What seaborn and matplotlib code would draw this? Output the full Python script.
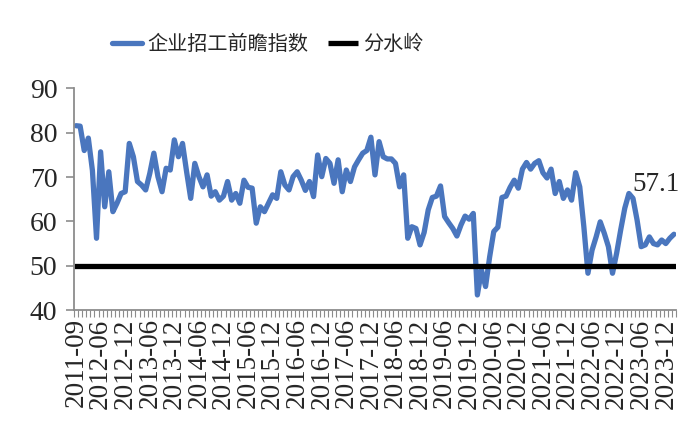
import numpy as np
import pandas as pd
import matplotlib
matplotlib.use("Agg")
import matplotlib.pyplot as plt
import seaborn as sns
from matplotlib.ticker import FixedLocator

# ---- data ----
index_values = [
    81.6, 81.5, 76.0, 78.8, 71.5, 56.2, 75.7, 63.3, 71.2, 62.2,
    64.1, 66.3, 66.7, 77.6, 74.6, 69.0, 68.2, 67.1, 70.8, 75.4,
    70.1, 66.7, 72.0, 71.6, 78.4, 74.6, 77.6, 71.2, 65.2, 73.1,
    70.1, 67.8, 70.5, 65.7, 66.7, 64.8, 65.7, 69.0, 64.8, 66.3,
    64.1, 69.3, 67.7, 67.5, 59.6, 63.3, 62.2, 64.1, 66.0, 65.2,
    71.2, 68.2, 67.1, 70.1, 71.2, 69.3, 67.0, 69.0, 65.6, 75.0,
    70.1, 74.2, 73.1, 68.6, 73.9, 66.7, 71.6, 69.0, 72.3, 73.9,
    75.4, 76.0, 79.0, 70.5, 78.0, 74.6, 74.1, 74.1, 73.1, 67.8,
    70.5, 56.2, 58.8, 58.4, 54.7, 57.5, 62.6, 65.4, 65.7, 68.0,
    61.1, 59.7, 58.4, 56.7, 59.2, 61.2, 60.5, 61.8, 43.4, 49.0,
    45.3, 52.0, 57.7, 58.7, 65.4, 65.7, 67.7, 69.3, 67.5, 71.8,
    73.3, 71.8, 73.1, 73.7, 71.0, 69.8, 71.8, 66.3, 69.0, 65.2,
    67.1, 64.8, 71.0, 67.8, 58.8, 48.3, 53.5, 56.5, 59.9, 57.3,
    54.3, 48.3, 52.8, 58.1, 63.0, 66.3, 65.2, 60.3, 54.3, 54.7,
    56.5, 55.0, 54.7, 55.8, 55.0, 56.2, 57.1,
]
watershed = 50
tick_labels = [
    "2011-09", "2012-06", "2012-12", "2013-06", "2013-12", "2014-06",
    "2014-12", "2015-06", "2015-12", "2016-06", "2016-12", "2017-06",
    "2017-12", "2018-06", "2018-12", "2019-06", "2019-12", "2020-06",
    "2020-12", "2021-06", "2021-12", "2022-06", "2022-12", "2023-06",
    "2023-12",
]
label_step = 6
y_ticks = [40, 50, 60, 70, 80, 90]
series_name = "企业招工前瞻指数"
line_name = "分水岭"

# ---- plot ----
sns.set_theme(style="white")
plt.rcParams["font.family"] = ["Liberation Serif", "Noto Sans CJK SC", "DejaVu Sans"]

n = len(index_values)
df = pd.DataFrame({"idx": np.arange(n), "val": index_values})

fig = plt.figure(figsize=(7.0, 4.42), dpi=100)
ax = fig.add_axes([0.1057, 0.2986, 0.86, 0.5012])

blue = "#4A76BE"
sns.lineplot(data=df, x="idx", y="val", ax=ax, color=blue, linewidth=3.8,
             label=series_name, solid_joinstyle="round")
ax.axhline(watershed, color="black", linewidth=3.8, label=line_name,
           solid_capstyle="butt")

ax.set_xlim(-0.5, n - 0.5)
ax.set_ylim(y_ticks[0], y_ticks[-1])
ax.set_yticks(y_ticks)
ax.set_yticklabels([str(t) for t in y_ticks])

major_pos = [i * label_step for i in range(len(tick_labels))]
ax.xaxis.set_major_locator(FixedLocator(major_pos))
ax.set_xticklabels(tick_labels, rotation=90, fontsize=19.5,
                   family=["Liberation Serif"])
ax.xaxis.set_minor_locator(FixedLocator(np.arange(-0.5, n, 1.0)))

spine_col = "#8C8C8C"
for s in ["top", "right"]:
    ax.spines[s].set_visible(False)
for s in ["left", "bottom"]:
    ax.spines[s].set_color(spine_col)
    ax.spines[s].set_linewidth(1.3)

ax.tick_params(axis="y", which="major", direction="out", length=6, width=1.2,
               color=spine_col, labelsize=20, pad=6, left=True)
ax.tick_params(axis="x", which="major", length=0, pad=6, bottom=True)
ax.tick_params(axis="x", which="minor", direction="out", length=5, width=0.8,
               color=spine_col, bottom=True)
for lab in ax.get_yticklabels():
    lab.set_family(["Liberation Serif"])

ax.set_xlabel("")
ax.set_ylabel("")
ax.grid(False)

ax.annotate(f"{index_values[-1]:.1f}", xy=(n - 1, index_values[-1]),
            xytext=(-13, 36), textcoords="offset points",
            ha="center", va="center", fontsize=19.5,
            family=["Liberation Serif"])

leg = ax.legend(loc="center", bbox_to_anchor=(0.322, 1.2), ncol=2, frameon=False,
                prop={"family": ["Noto Sans CJK SC"], "size": 14.5},
                handlelength=1.5, handletextpad=0.25, columnspacing=1.0)

fig.savefig("out.png", dpi=100)
